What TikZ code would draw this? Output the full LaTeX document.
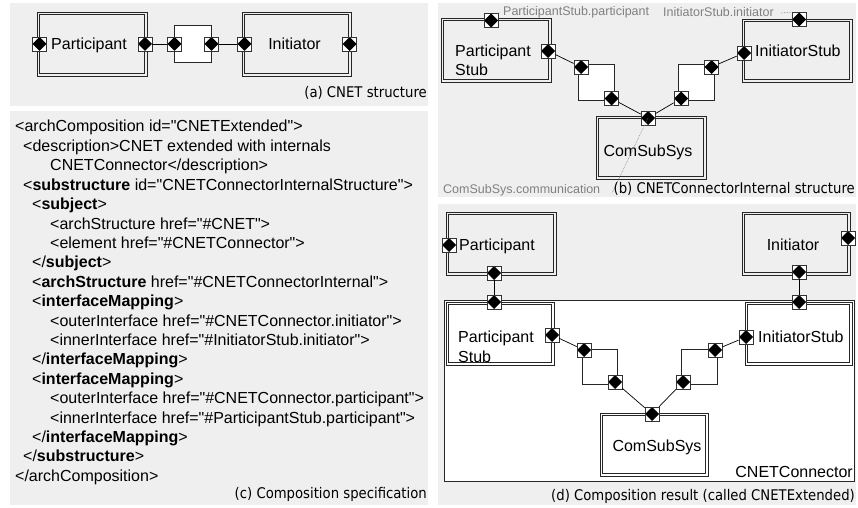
\documentclass[tikz,border=0pt]{standalone}
\usepackage{fontspec}
\setmainfont{Liberation Sans}
\newfontfamily\xmlfont[Ligatures=TeXOff]{Liberation Sans}
\newfontfamily\capfont[FakeStretch=0.9]{DejaVu Sans}
\definecolor{panel}{RGB}{239,239,239}
\definecolor{lbl}{RGB}{128,128,128}
\tikzset{
  panelbg/.style={fill=panel, draw=none},
  comp/.style={draw=black!85, line width=0.7bp, fill=panel, inner sep=0},
  compw/.style={comp, fill=white},
  innerline/.style={draw=black!85, line width=0.7bp},
  connbox/.style={draw=black!85, line width=0.7bp, fill=white, inner sep=0},
  port/.style={rectangle, draw=black!80, line width=0.7bp, fill=white, minimum size=14bp, inner sep=0,
    path picture={\fill[black] (path picture bounding box.north) -- (path picture bounding box.east)
      -- (path picture bounding box.south) -- (path picture bounding box.west) -- cycle;}},
  wire/.style={draw=black, line width=0.7bp},
  boxtxt/.style={font=\fontsize{16bp}{19bp}\selectfont, inner sep=0, anchor=base west},
  xml/.style={font=\xmlfont\fontsize{16bp}{19bp}\selectfont, inner sep=0, anchor=base west},
  captxt/.style={font=\capfont\fontsize{14.7bp}{17bp}\selectfont, inner sep=0, anchor=base east},
  glab/.style={font=\fontsize{12.5bp}{15bp}\selectfont, text=lbl, inner sep=0, anchor=base west},
  leader/.style={draw=lbl, densely dotted, line width=0.6bp}
}
\begin{document}
\begin{tikzpicture}[x=1bp,y=-1bp]
\useasboundingbox (0,0) rectangle (858,508);
% panels
\fill[panelbg] (10,3) rectangle (428,106);
\fill[panelbg] (10,111) rectangle (428,505);
\fill[panelbg] (438,3) rectangle (856,197);
\fill[panelbg] (438,204) rectangle (856,505);

% ===== (a) =====
\node[comp, minimum width=110bp, minimum height=64bp] (Pa) at (92,44) {};
\node[comp, minimum width=109bp, minimum height=64bp] (Ia) at (296.5,44) {};
\node[connbox, minimum width=37bp, minimum height=37bp] (Ca) at (192.5,43.5) {};
\foreach \n in {Pa,Ia}
  \draw[innerline] ([shift={(3,3)}]\n.north west) rectangle ([shift={(-3,-3)}]\n.south east);
\node[boxtxt] (tPa) at (51,49.7) {Participant};
\node[boxtxt, anchor=base] (tIa) at (294.5,49.7) {Initiator};
\node[port] (pa1) at (39.5,44) {};
\node[port] (pa2) at (145,44) {};
\node[port] (ca1) at (174.5,44) {};
\node[port] (ca2) at (211.5,44) {};
\node[port] (ia1) at (244.5,44) {};
\node[port] (ia2) at (349.5,44) {};
\draw[wire] (pa2) -- (ca1);
\draw[wire] (ca2) -- (ia1);
\node[captxt] (capa) at (427,98) {(a) CNET structure};

% ===== (b) =====
\node[comp, minimum width=110bp, minimum height=64bp] (PSb) at (496,50) {};
\node[comp, minimum width=110bp, minimum height=63bp] (CSb) at (651,147.5) {};
\node[comp, minimum width=110bp, minimum height=63bp] (ISb) at (797,50.5) {};
\foreach \n in {PSb,CSb,ISb}
  \draw[innerline] ([shift={(3,3)}]\n.north west) rectangle ([shift={(-3,-3)}]\n.south east);
\node[connbox, minimum width=36bp, minimum height=36bp] (C1b) at (596,82) {};
\node[connbox, minimum width=36bp, minimum height=36bp] (C2b) at (696,82) {};
\node[boxtxt] (tPSb1) at (455,56.7) {Participant};
\node[boxtxt] (tPSb2) at (455,75.7) {Stub};
\node[boxtxt] (tISb) at (755,56.7) {InitiatorStub};
\node[boxtxt, anchor=base] (tCSb) at (648,156.7) {ComSubSys};
\node[port] (psb1) at (491,20.5) {};
\node[port] (psb2) at (548,51) {};
\node[port] (cb1a) at (581,67) {};
\node[port] (cb1b) at (611.5,98.5) {};
\node[port] (csb) at (648,118) {};
\node[port] (cb2a) at (681,98.5) {};
\node[port] (cb2b) at (711.5,67) {};
\node[port] (isb1) at (799,19.5) {};
\node[port] (isb2) at (744,53) {};
\draw[wire] (psb2) -- (cb1a);
\draw[wire] (cb1b) -- (csb);
\draw[wire] (cb2a) -- (csb);
\draw[wire] (cb2b) -- (isb2);
\node[glab] (gl1) at (503,15.5) {ParticipantStub.participant};
\node[glab] (gl2) at (663,16.5) {InitiatorStub.initiator};
\node[glab] (gl3) at (443,194) {ComSubSys.communication};
\coordinate (e1) at (500,12.5);
\coordinate (e2) at (781,13);
\coordinate (e3) at (612,193);
\draw[leader] (psb1.north east) -- (e1);
\draw[leader] (e2) -- (isb1.north west);
\draw[leader] (csb.center) -- (e3);
\node[captxt] (capb) at (855,194) {(b) CNETConnectorInternal structure};

% ===== (c) =====
\node[xml] (x1) at (15,132) {<archComposition id="CNETExtended">};
\node[xml] (x2) at (23,151.5) {<description>CNET extended with internals};
\node[xml] (x3) at (50,170.9) {CNETConnector</description>};
\node[xml] (x4) at (23,190.3) {<\textbf{substructure} id="CNETConnectorInternalStructure">};
\node[xml] (x5) at (32,209.7) {<\textbf{subject}>};
\node[xml] (x6) at (50,229.1) {<archStructure href="\#CNET">};
\node[xml] (x7) at (50,248.5) {<element href="\#CNETConnector">};
\node[xml] (x8) at (32,267.9) {</\textbf{subject}>};
\node[xml] (x9) at (32,287.3) {<\textbf{archStructure} href="\#CNETConnectorInternal">};
\node[xml] (x10) at (32,306.7) {<\textbf{interfaceMapping}>};
\node[xml] (x11) at (50,326.1) {<outerInterface href="\#CNETConnector.initiator">};
\node[xml] (x12) at (50,345.5) {<innerInterface href="\#InitiatorStub.initiator">};
\node[xml] (x13) at (32,364.9) {</\textbf{interfaceMapping}>};
\node[xml] (x14) at (32,384.3) {<\textbf{interfaceMapping}>};
\node[xml] (x15) at (50,403.7) {<outerInterface href="\#CNETConnector.participant">};
\node[xml] (x16) at (50,423.1) {<innerInterface href="\#ParticipantStub.participant">};
\node[xml] (x17) at (32,442.5) {</\textbf{interfaceMapping}>};
\node[xml] (x18) at (23,461.9) {</\textbf{substructure}>};
\node[xml] (x19) at (15,481.3) {</archComposition>};
\node[captxt] (capc) at (427,498.5) {(c) Composition specification};

% ===== (d) =====
\node[connbox, minimum width=410bp, minimum height=181bp] (CNd) at (649,390.5) {};
\node[comp, minimum width=110bp, minimum height=63bp] (Pd) at (501,243.5) {};
\node[comp, minimum width=108bp, minimum height=63bp] (Id) at (796,243.5) {};
\node[compw, minimum width=108bp, minimum height=63bp] (PSd) at (500,333.5) {};
\node[compw, minimum width=107bp, minimum height=63bp] (ISd) at (798.5,333.5) {};
\node[compw, minimum width=108bp, minimum height=63bp] (CSd) at (654,444.5) {};
\foreach \n in {Pd,Id,PSd,ISd,CSd}
  \draw[innerline] ([shift={(3,3)}]\n.north west) rectangle ([shift={(-3,-3)}]\n.south east);
\node[connbox, minimum width=35bp, minimum height=35bp] (C1d) at (599.5,366.5) {};
\node[connbox, minimum width=36bp, minimum height=35bp] (C2d) at (699,366.5) {};
\node[boxtxt] (tPd) at (459,250.7) {Participant};
\node[boxtxt, anchor=base] (tId) at (793,250.7) {Initiator};
\node[boxtxt] (tPSd1) at (458,342.7) {Participant};
\node[boxtxt] (tPSd2) at (458,362) {Stub};
\node[boxtxt] (tISd) at (758,342.7) {InitiatorStub};
\node[boxtxt, anchor=base] (tCSd) at (657,451.7) {ComSubSys};
\node[boxtxt, anchor=base east] (tCNd) at (853,477.7) {CNETConnector};
\node[port] (pd1) at (449,245) {};
\node[port] (pd2) at (494,273) {};
\node[port] (id1) at (848,238) {};
\node[port] (id2) at (799,272) {};
\node[port] (psd1) at (494,302) {};
\node[port] (psd2) at (552,335) {};
\node[port] (cd1a) at (584,350) {};
\node[port] (cd1b) at (615,382) {};
\node[port] (csd) at (652,414) {};
\node[port] (cd2a) at (683,382) {};
\node[port] (cd2b) at (715,350) {};
\node[port] (isd1) at (799,302) {};
\node[port] (isd2) at (746,337) {};
\draw[wire] (pd2) -- (psd1);
\draw[wire] (id2) -- (isd1);
\draw[wire] (psd2) -- (cd1a);
\draw[wire] (cd1b) -- (csd);
\draw[wire] (cd2a) -- (csd);
\draw[wire] (cd2b) -- (isd2);
\node[captxt] (capd) at (855,500.5) {(d) Composition result (called CNETExtended)};
\end{tikzpicture}
\end{document}
